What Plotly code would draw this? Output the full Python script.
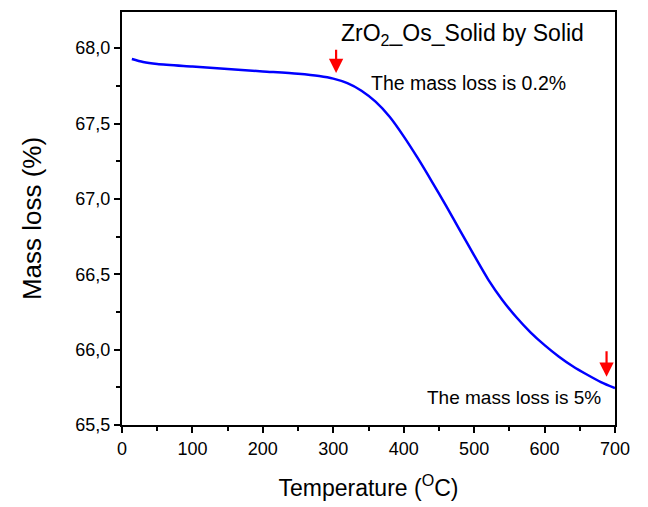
import plotly.graph_objects as go

# TGA curve: temperature (°C) vs. remaining mass (%)
temperature = [14, 30, 50, 100, 150, 200, 250, 280, 300, 320, 340, 360, 380, 400, 420, 440,
               460, 480, 500, 520, 540, 560, 580, 600, 620, 640, 660, 680, 700]
mass = [67.928, 67.908, 67.895, 67.878, 67.862, 67.846, 67.830, 67.815, 67.798, 67.768, 67.718,
        67.645, 67.545, 67.415, 67.27, 67.115, 66.955, 66.79, 66.625, 66.465, 66.33, 66.215,
        66.115, 66.03, 65.955, 65.89, 65.835, 65.785, 65.745]

# Markers for the start and end of the mass loss
arrow_temps = [304, 688]
arrow_tips = [67.835, 65.82]
arrow_tails = [68.0, 66.0]

fig = go.Figure()
fig.add_trace(go.Scatter(
    x=temperature, y=mass, mode="lines",
    line=dict(color="#0000ff", width=2.5, shape="spline", smoothing=0.8),
    showlegend=False, hoverinfo="skip"))

for t, tip, tail in zip(arrow_temps, arrow_tips, arrow_tails):
    fig.add_annotation(x=t, y=tip, ax=t, ay=tail, xref="x", yref="y", axref="x", ayref="y",
                       showarrow=True, arrowhead=2, arrowsize=1.3, arrowwidth=2.2,
                       arrowcolor="#ff0000", text="")

font_family = "Liberation Sans, Arial, sans-serif"
fig.add_annotation(x=484, y=68.09, xref="x", yref="y", showarrow=False,
                   text="ZrO<sub>2</sub>_Os_Solid by Solid",
                   font=dict(family=font_family, size=23, color="black"))
fig.add_annotation(x=350, y=67.77, xref="x", yref="y", showarrow=False, xanchor="left",
                   text="The mass loss is 0.2%",
                   font=dict(family=font_family, size=19.5, color="black"))
fig.add_annotation(x=430, y=65.684, xref="x", yref="y", showarrow=False, xanchor="left",
                   text="The mass loss is 5%",
                   font=dict(family=font_family, size=19, color="black"))

axis_common = dict(showline=True, linecolor="black", linewidth=2, mirror=True,
                   ticks="outside", ticklen=6, tickwidth=2, tickcolor="black",
                   showgrid=False, zeroline=False,
                   tickfont=dict(family=font_family, size=18, color="black"))

fig.update_xaxes(range=[0, 700], tickvals=[0, 100, 200, 300, 400, 500, 600, 700],
                 minor=dict(ticks="outside", ticklen=4, tickwidth=2, dtick=50, tick0=0,
                            tickcolor="black"),
                 title=dict(text="Temperature (<sup>O</sup>C)",
                            font=dict(family=font_family, size=23, color="black"), standoff=22),
                 **axis_common)
fig.update_yaxes(range=[65.5, 68.24], tickvals=[65.5, 66.0, 66.5, 67.0, 67.5, 68.0],
                 tickformat=".1f",
                 minor=dict(ticks="outside", ticklen=4, tickwidth=2, dtick=0.25, tick0=65.5,
                            tickcolor="black"),
                 title=dict(text="Mass loss (%)",
                            font=dict(family=font_family, size=26, color="black"), standoff=26),
                 **axis_common)

fig.update_layout(width=648, height=507, separators=",.",
                  margin=dict(l=122, r=33, t=10, b=79),
                  plot_bgcolor="white", paper_bgcolor="white")

fig.write_html("out.html")
